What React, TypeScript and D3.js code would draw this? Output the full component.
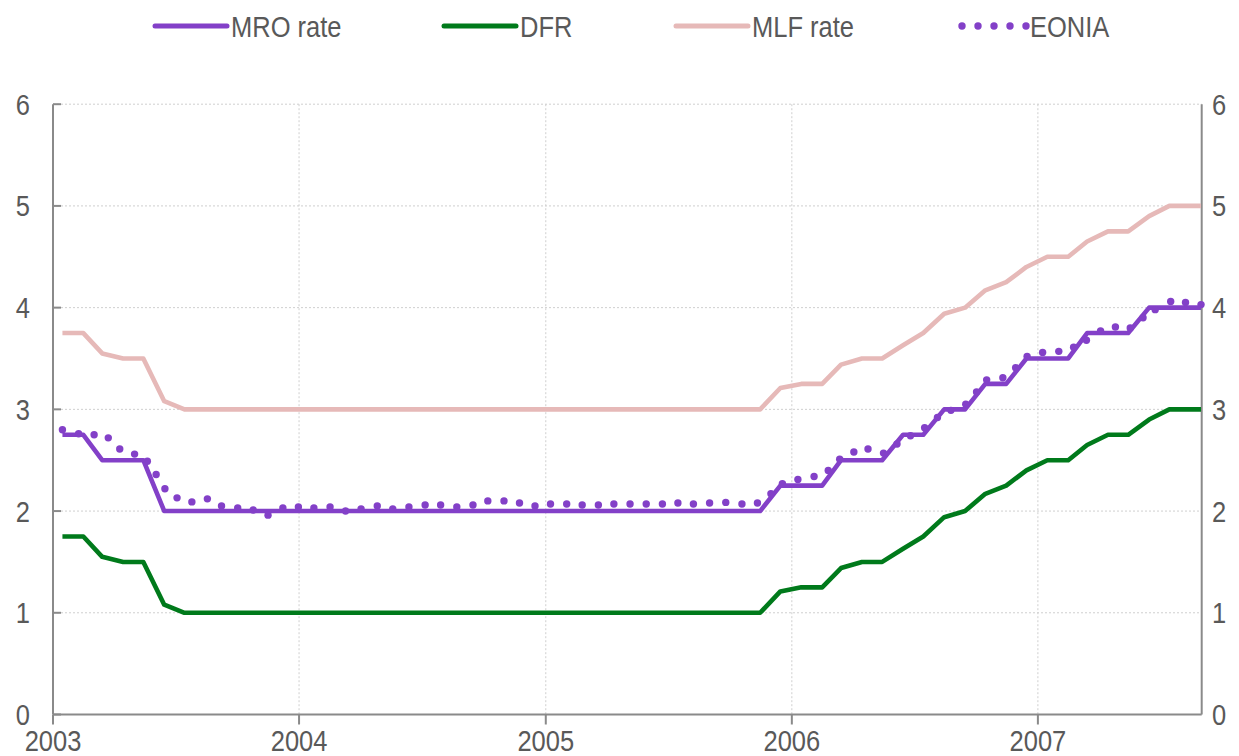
import * as d3 from "d3"

// monthly observations (mid-month) plus a closing value at the end of the window
const MONTH_DATES = [
  "2003-01-15", "2003-02-15", "2003-03-15", "2003-04-15", "2003-05-15", "2003-06-15",
  "2003-07-15", "2003-08-15", "2003-09-15", "2003-10-15", "2003-11-15", "2003-12-15",
  "2004-01-15", "2004-02-15", "2004-03-15", "2004-04-15", "2004-05-15", "2004-06-15",
  "2004-07-15", "2004-08-15", "2004-09-15", "2004-10-15", "2004-11-15", "2004-12-15",
  "2005-01-15", "2005-02-15", "2005-03-15", "2005-04-15", "2005-05-15", "2005-06-15",
  "2005-07-15", "2005-08-15", "2005-09-15", "2005-10-15", "2005-11-15", "2005-12-15",
  "2006-01-15", "2006-02-15", "2006-03-15", "2006-04-15", "2006-05-15", "2006-06-15",
  "2006-07-15", "2006-08-15", "2006-09-15", "2006-10-15", "2006-11-15", "2006-12-15",
  "2007-01-15", "2007-02-15", "2007-03-15", "2007-04-15", "2007-05-15", "2007-06-15",
  "2007-07-15", "2007-08-15", "2007-08-31",
]

const MRO = [
  2.75, 2.75, 2.5, 2.5, 2.5, 2.0, 2.0, 2.0, 2.0, 2.0, 2.0, 2.0,
  2.0, 2.0, 2.0, 2.0, 2.0, 2.0, 2.0, 2.0, 2.0, 2.0, 2.0, 2.0,
  2.0, 2.0, 2.0, 2.0, 2.0, 2.0, 2.0, 2.0, 2.0, 2.0, 2.0, 2.25,
  2.25, 2.25, 2.5, 2.5, 2.5, 2.75, 2.75, 3.0, 3.0, 3.25, 3.25, 3.5,
  3.5, 3.5, 3.75, 3.75, 3.75, 4.0, 4.0, 4.0, 4.0,
]

const DFR = [
  1.75, 1.75, 1.55, 1.5, 1.5, 1.08, 1.0, 1.0, 1.0, 1.0, 1.0, 1.0,
  1.0, 1.0, 1.0, 1.0, 1.0, 1.0, 1.0, 1.0, 1.0, 1.0, 1.0, 1.0,
  1.0, 1.0, 1.0, 1.0, 1.0, 1.0, 1.0, 1.0, 1.0, 1.0, 1.0, 1.21,
  1.25, 1.25, 1.44, 1.5, 1.5, 1.63, 1.75, 1.94, 2.0, 2.17, 2.25, 2.4,
  2.5, 2.5, 2.65, 2.75, 2.75, 2.9, 3.0, 3.0, 3.0,
]

const MLF = [
  3.75, 3.75, 3.55, 3.5, 3.5, 3.08, 3.0, 3.0, 3.0, 3.0, 3.0, 3.0,
  3.0, 3.0, 3.0, 3.0, 3.0, 3.0, 3.0, 3.0, 3.0, 3.0, 3.0, 3.0,
  3.0, 3.0, 3.0, 3.0, 3.0, 3.0, 3.0, 3.0, 3.0, 3.0, 3.0, 3.21,
  3.25, 3.25, 3.44, 3.5, 3.5, 3.63, 3.75, 3.94, 4.0, 4.17, 4.25, 4.4,
  4.5, 4.5, 4.65, 4.75, 4.75, 4.9, 5.0, 5.0, 5.0,
]

// EONIA, plotted at its own (irregular) observation dates
const EONIA_DATES = [
  "2003-01-15", "2003-02-08", "2003-03-03", "2003-03-24", "2003-04-10", "2003-05-02",
  "2003-05-21", "2003-06-03", "2003-06-16", "2003-07-04", "2003-07-26", "2003-08-18",
  "2003-09-08", "2003-10-02", "2003-10-25", "2003-11-16", "2003-12-08", "2003-12-31",
  "2004-01-23", "2004-02-16", "2004-03-10", "2004-04-02", "2004-04-26", "2004-05-19",
  "2004-06-12", "2004-07-06", "2004-07-29", "2004-08-22", "2004-09-15", "2004-10-07",
  "2004-10-31", "2004-11-23", "2004-12-16", "2005-01-08", "2005-02-01", "2005-02-24",
  "2005-03-20", "2005-04-12", "2005-05-06", "2005-05-30", "2005-06-23", "2005-07-16",
  "2005-08-08", "2005-09-01", "2005-09-25", "2005-10-19", "2005-11-11", "2005-12-01",
  "2005-12-18", "2006-01-10", "2006-02-03", "2006-02-24", "2006-03-13", "2006-04-03",
  "2006-04-24", "2006-05-17", "2006-06-06", "2006-06-26", "2006-07-17", "2006-08-05",
  "2006-08-25", "2006-09-16", "2006-10-02", "2006-10-17", "2006-11-10", "2006-11-29",
  "2006-12-16", "2007-01-08", "2007-02-01", "2007-02-23", "2007-03-14", "2007-04-04",
  "2007-04-26", "2007-05-18", "2007-06-06", "2007-06-24", "2007-07-17", "2007-08-08",
  "2007-08-31",
]

const EONIA = [
  2.8, 2.76, 2.75, 2.72, 2.61, 2.56, 2.49, 2.36, 2.22, 2.13, 2.09, 2.12,
  2.05, 2.03, 2.01, 1.96, 2.03, 2.04, 2.03, 2.04, 2.0, 2.02, 2.05, 2.02,
  2.04, 2.06, 2.06, 2.04, 2.06, 2.1, 2.1, 2.08, 2.05, 2.07, 2.07, 2.06,
  2.06, 2.07, 2.07, 2.07, 2.07, 2.08, 2.07, 2.08, 2.085, 2.07, 2.08, 2.17,
  2.27, 2.31, 2.34, 2.4, 2.51, 2.58, 2.61, 2.57, 2.66, 2.74, 2.82, 2.92,
  2.99, 3.05, 3.17, 3.29, 3.31, 3.41, 3.52, 3.56, 3.57, 3.61, 3.68, 3.77,
  3.81, 3.8, 3.9, 3.98, 4.06, 4.05, 4.03,
]

const Y_TICKS = [0, 1, 2, 3, 4, 5, 6]
const YEARS = ["2003", "2004", "2005", "2006", "2007"]

const PURPLE = "#8340c8"
const GREEN = "#007a1b"
const PINK = "#e6b9b8"
const TEXT = "#595959"
const AXIS = "#8a8a8a"
const GRID = "#cfcfcf"
const FONT = "'Liberation Sans', Arial, sans-serif"

const W = 1239
const H = 756
const LEFT = 53
const RIGHT = 1201.7
const TOP = 104.2
const BOTTOM = 714.5

const parse = d3.timeParse("%Y-%m-%d")

function Label({ x, y, anchor, children }: { x: number; y: number; anchor: string; children: string }) {
  return (
    <text
      transform={`translate(${x},${y}) scale(0.85,1)`}
      textAnchor={anchor}
      fontFamily={FONT}
      fontSize={30}
      fill={TEXT}
    >
      {children}
    </text>
  )
}

export default function App() {
  const x = d3
    .scaleTime()
    .domain([new Date(2003, 0, 1), new Date(2007, 8, 1)])
    .range([LEFT, RIGHT])
  const y = d3.scaleLinear().domain([0, 6]).range([BOTTOM, TOP])

  const months = MONTH_DATES.map((d) => parse(d)!)
  const eoniaDates = EONIA_DATES.map((d) => parse(d)!)

  const line = d3
    .line<[Date, number]>()
    .x((d) => x(d[0]))
    .y((d) => y(d[1]))

  const series = [
    { name: "MLF rate", values: MLF, color: PINK },
    { name: "DFR", values: DFR, color: GREEN },
    { name: "MRO rate", values: MRO, color: PURPLE },
  ]

  const yearTicks = YEARS.map((yr) => new Date(+yr, 0, 1))

  const legend = [
    { name: "MRO rate", color: PURPLE, x0: 155, dots: false },
    { name: "DFR", color: GREEN, x0: 444, dots: false },
    { name: "MLF rate", color: PINK, x0: 676, dots: false },
    { name: "EONIA", color: PURPLE, x0: 958, dots: true },
  ]

  return (
    <svg
      width={W}
      height={H}
      style={{ position: "absolute", left: 0, top: 0, background: "#fff" }}
    >
      {/* gridlines */}
      {Y_TICKS.filter((t) => t > 0).map((t) => (
        <line
          key={"gy" + t}
          x1={LEFT}
          x2={RIGHT}
          y1={y(t)}
          y2={y(t)}
          stroke={GRID}
          strokeWidth={1}
          strokeDasharray="2,2"
        />
      ))}
      {yearTicks.slice(1).map((d, i) => (
        <line
          key={"gx" + i}
          x1={x(d)}
          x2={x(d)}
          y1={TOP}
          y2={BOTTOM}
          stroke={GRID}
          strokeWidth={1}
          strokeDasharray="2,2"
        />
      ))}

      {/* axes */}
      <line x1={LEFT} x2={LEFT} y1={TOP} y2={BOTTOM} stroke={AXIS} strokeWidth={2} />
      <line x1={RIGHT} x2={RIGHT} y1={TOP} y2={BOTTOM} stroke={AXIS} strokeWidth={2} />
      <line x1={LEFT} x2={RIGHT} y1={BOTTOM} y2={BOTTOM} stroke={AXIS} strokeWidth={2} />
      {Y_TICKS.map((t) => (
        <line key={"ty" + t} x1={LEFT} x2={LEFT + 8} y1={y(t)} y2={y(t)} stroke={AXIS} strokeWidth={2} />
      ))}
      {yearTicks.map((d, i) => (
        <line key={"tx" + i} x1={x(d)} x2={x(d)} y1={BOTTOM} y2={BOTTOM + 10} stroke={AXIS} strokeWidth={2} />
      ))}

      {/* tick labels */}
      {Y_TICKS.map((t) => (
        <Label key={"ly" + t} x={30} y={y(t) + 10.5} anchor="end">
          {String(t)}
        </Label>
      ))}
      {Y_TICKS.map((t) => (
        <Label key={"ry" + t} x={1212} y={y(t) + 10.5} anchor="start">
          {String(t)}
        </Label>
      ))}
      {YEARS.map((yr, i) => (
        <Label key={"lx" + yr} x={x(yearTicks[i])} y={751} anchor="middle">
          {yr}
        </Label>
      ))}

      {/* series */}
      {series.map((s) => (
        <path
          key={s.name}
          d={line(months.map((d, i) => [d, s.values[i]] as [Date, number]))!}
          fill="none"
          stroke={s.color}
          strokeWidth={4.6}
          strokeLinejoin="round"
        />
      ))}
      {EONIA.map((v, i) => (
        <circle key={"e" + i} cx={x(eoniaDates[i])} cy={y(v)} r={3.7} fill={PURPLE} />
      ))}

      {/* legend */}
      {legend.map((l) => (
        <g key={l.name}>
          {l.dots ? (
            [0, 1, 2, 3, 4].map((k) => (
              <circle key={k} cx={l.x0 + 4 + k * 16} cy={26} r={3.7} fill={l.color} />
            ))
          ) : (
            <line
              x1={l.x0}
              x2={l.x0 + 72}
              y1={26}
              y2={26}
              stroke={l.color}
              strokeWidth={5}
              strokeLinecap="round"
            />
          )}
          <Label x={l.dots ? l.x0 + 72 : l.x0 + 76} y={37} anchor="start">
            {l.name}
          </Label>
        </g>
      ))}
    </svg>
  )
}
